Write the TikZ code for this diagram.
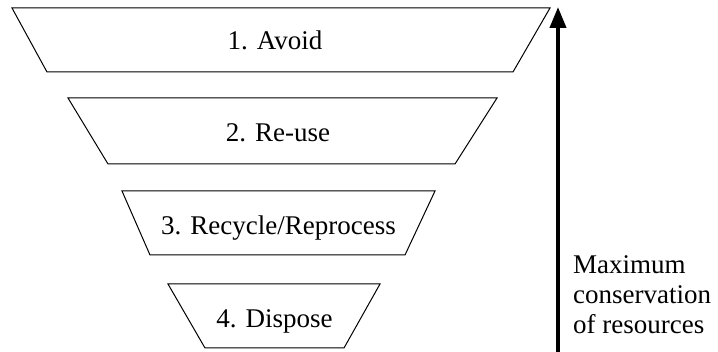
\documentclass[tikz,border=0pt]{standalone}
\usepackage{fontspec}
\setmainfont{Liberation Serif}
\usetikzlibrary{arrows.meta}
\begin{document}
\begin{tikzpicture}[x=1pt,y=-1pt,
  tier/.style={draw=black, line width=1pt, fill=white, line join=miter},
  label/.style={font=\fontsize{27}{30}\selectfont, inner sep=0pt, anchor=base},
  side/.style={font=\fontsize{27}{30}\selectfont, inner sep=0pt, align=left, anchor=base west}]
\useasboundingbox (0,0) rectangle (718,352);
% tiers
\draw[tier] (12,8) -- (550,8) -- (513,72) -- (47,72) -- cycle;
\node[label] (t1) at (275,50) {1. Avoid};
\draw[tier] (68,98) -- (497,98) -- (455,164) -- (108,164) -- cycle;
\node[label] (t2) at (278,142) {2. Re-use};
\draw[tier] (122,191) -- (435,191) -- (405,255) -- (150,255) -- cycle;
\node[label] (t3) at (278.5,235) {3. Recycle/Reprocess};
\draw[tier] (168,284) -- (380,284) -- (344,348) -- (205,348) -- cycle;
\node[label] (t4) at (274.5,328) {4. Dispose};
% arrow
\coordinate (abot) at (558,352);
\coordinate (atop) at (558,7);
\draw[line width=4pt, -{Triangle[width=16pt,length=21pt]}] (abot) -- (atop);
\node[side] (cap) at (573,334) {Maximum\\conservation\\of resources};
\end{tikzpicture}
\end{document}
